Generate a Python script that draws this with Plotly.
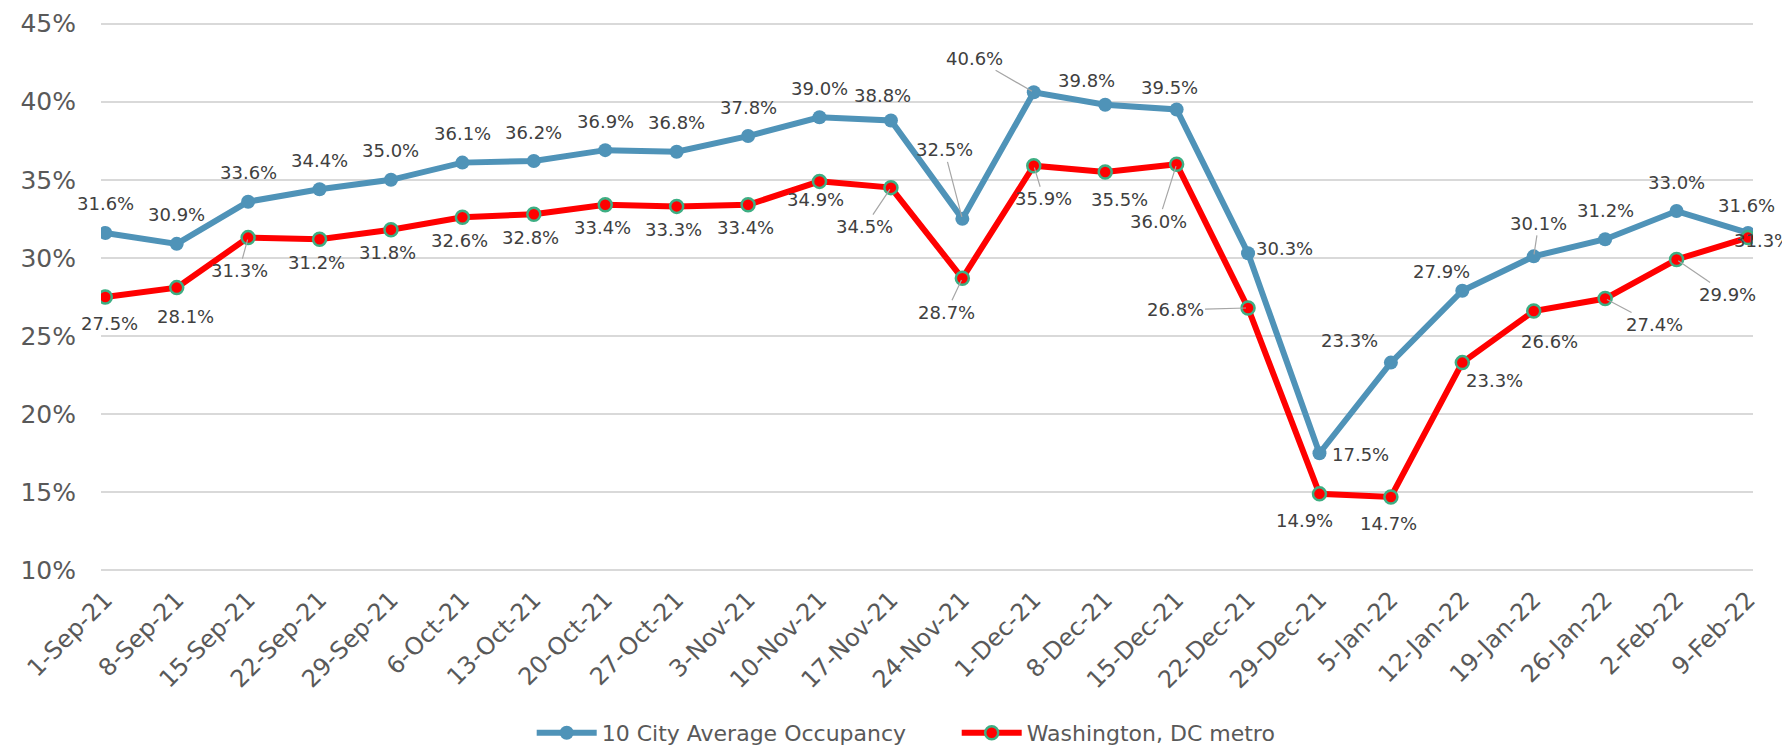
import plotly.graph_objects as go

dates = ["1-Sep-21", "8-Sep-21", "15-Sep-21", "22-Sep-21", "29-Sep-21", "6-Oct-21",
         "13-Oct-21", "20-Oct-21", "27-Oct-21", "3-Nov-21", "10-Nov-21", "17-Nov-21",
         "24-Nov-21", "1-Dec-21", "8-Dec-21", "15-Dec-21", "22-Dec-21", "29-Dec-21",
         "5-Jan-22", "12-Jan-22", "19-Jan-22", "26-Jan-22", "2-Feb-22", "9-Feb-22"]

city_avg = [31.6, 30.9, 33.6, 34.4, 35.0, 36.1, 36.2, 36.9, 36.8, 37.8, 39.0, 38.8,
            32.5, 40.6, 39.8, 39.5, 30.3, 17.5, 23.3, 27.9, 30.1, 31.2, 33.0, 31.6]
dc_metro = [27.5, 28.1, 31.3, 31.2, 31.8, 32.6, 32.8, 33.4, 33.3, 33.4, 34.9, 34.5,
            28.7, 35.9, 35.5, 36.0, 26.8, 14.9, 14.7, 23.3, 26.6, 27.4, 29.9, 31.3]

y_ticks = [10, 15, 20, 25, 30, 35, 40, 45]
y_tick_text = ["10%", "15%", "20%", "25%", "30%", "35%", "40%", "45%"]

BLUE = "#4F93B8"
RED = "#FF0000"
GREEN = "#3DAE83"
LABEL_COLOR = "#404040"
AXIS_TEXT = "#595959"
FONT = "DejaVu Sans"

# label placement (pixel offsets of label centre from point; dy positive = down), leader flag
blue_pos = {12: (-18, -69, True), 13: (-59, -34, True), 16: (36, -5, False),
            17: (41, 1, False), 18: (-41, -22, False), 19: (-21, -19, False),
            20: (5, -33, True), 11: (-8, -25, False), 14: (-19, -24, False),
            15: (-7, -22, False), 23: (-2, -27, False)}
red_pos = {0: (4, 26, False), 1: (9, 29, False), 2: (-9, 33, True), 10: (-4, 18, False),
           11: (-26, 39, True), 12: (-16, 34, True), 13: (10, 33, True),
           14: (14, 27, False), 15: (-18, 57, True), 16: (-73, 2, True),
           17: (-15, 27, False), 18: (-2, 26, False), 19: (32, 18, False),
           20: (16, 30, False), 21: (49, 26, True), 22: (51, 35, True),
           23: (14, 3, False)}

fig = go.Figure()
fig.add_trace(go.Scatter(
    x=dates, y=city_avg, mode="lines+markers", name="10 City Average Occupancy",
    line=dict(color=BLUE, width=6),
    marker=dict(color=BLUE, size=14, line=dict(width=0)),
))
fig.add_trace(go.Scatter(
    x=dates, y=dc_metro, mode="lines+markers", name="Washington, DC metro",
    line=dict(color=RED, width=6),
    marker=dict(color=RED, size=13, line=dict(color=GREEN, width=2.5)),
))

annotations = []


def add_labels(values, pos, default):
    for i, v in enumerate(values):
        dx, dy, leader = pos.get(i, default)
        txt = f"{v:.1f}%"
        if leader:
            annotations.append(dict(
                x=dates[i], y=v, xref="x", yref="y", text=txt,
                showarrow=True, ax=dx, ay=dy, arrowhead=0, arrowwidth=1.2,
                arrowcolor="#A6A6A6", standoff=2,
                font=dict(family=FONT, size=18, color=LABEL_COLOR)))
        else:
            annotations.append(dict(
                x=dates[i], y=v, xref="x", yref="y", text=txt,
                showarrow=False, xshift=dx, yshift=-dy,
                font=dict(family=FONT, size=18, color=LABEL_COLOR)))


add_labels(city_avg, blue_pos, (0, -29, False))
add_labels(dc_metro, red_pos, (-3, 23, False))

fig.update_layout(
    width=1790, height=752,
    margin=dict(l=93, r=45, t=14, b=188, autoexpand=False),
    paper_bgcolor="white", plot_bgcolor="white",
    font=dict(family=FONT, color=AXIS_TEXT),
    showlegend=True,
    legend=dict(orientation="h", xref="container", yref="container",
                x=0.53, xanchor="center", y=0.036, yanchor="middle",
                font=dict(family=FONT, size=22, color=AXIS_TEXT),
                itemwidth=60, entrywidth=350, traceorder="normal"),
    annotations=annotations,
)
fig.update_xaxes(
    type="category", range=[-0.06, 23.07], tickangle=-45, automargin=False,
    tickfont=dict(family=FONT, size=24, color=AXIS_TEXT),
    showgrid=False, showline=False, ticks="", ticklabelstandoff=8,
)
fig.update_yaxes(
    range=[9.9, 45.1], tickmode="array", tickvals=y_ticks, ticktext=y_tick_text,
    automargin=False,
    tickfont=dict(family=FONT, size=25, color=AXIS_TEXT),
    showgrid=True, gridcolor="#D9D9D9", gridwidth=1.5, zeroline=False,
    showline=False, ticks="", ticklabelstandoff=24,
)

fig.write_html("out.html")
